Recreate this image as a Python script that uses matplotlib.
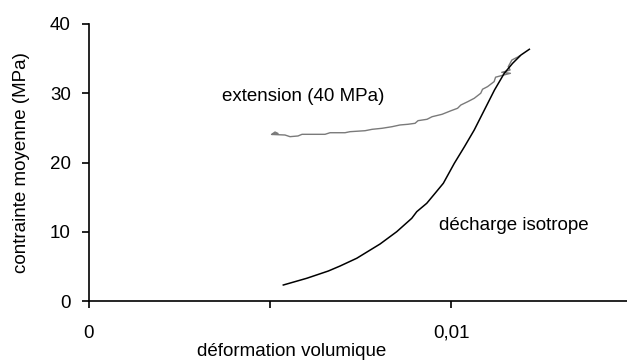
import numpy as np
import matplotlib
matplotlib.use("Agg")
import matplotlib.pyplot as plt
from matplotlib.ticker import FixedLocator, FixedFormatter

plt.rcParams['font.family'] = ['Liberation Sans', 'DejaVu Sans']

# décharge isotrope (black curve)
dech_x = [0.005367, 0.006014, 0.006610, 0.006934, 0.007395, 0.008039, 0.008500,
          0.008914, 0.009053, 0.009329, 0.009558, 0.009787, 0.010090, 0.010370,
          0.010640, 0.010920, 0.011200, 0.011470, 0.011700, 0.011930, 0.012163]
dech_y = [2.31, 3.28, 4.33, 5.05, 6.17, 8.23, 10.01,
          11.94, 12.90, 14.11, 15.55, 17.00, 19.88, 22.28,
          24.69, 27.58, 30.47, 32.88, 34.32, 35.52, 36.35]

# extension (40 MPa) (grey curve)
ext_x = [0.005047, 0.005138, 0.005221, 0.005060, 0.005414, 0.005552, 0.005773,
         0.005884, 0.006519, 0.006657, 0.007072, 0.007210, 0.007624, 0.007818,
         0.008094, 0.008370, 0.008591, 0.008812, 0.009006, 0.009088, 0.009337,
         0.009475, 0.009751, 0.010000, 0.010180, 0.010270, 0.010460, 0.010640,
         0.010820, 0.010870, 0.011010, 0.011190, 0.011230, 0.011460, 0.011640,
         0.011400, 0.011540, 0.011630, 0.011580, 0.011680, 0.011860, 0.011890]
ext_y = [24.07, 24.40, 24.19, 24.05, 23.97, 23.73, 23.83,
         24.07, 24.07, 24.30, 24.30, 24.45, 24.59, 24.79,
         24.94, 25.17, 25.42, 25.52, 25.66, 26.04, 26.24,
         26.61, 26.96, 27.48, 27.83, 28.30, 28.78, 29.27,
         30.00, 30.58, 30.96, 31.68, 32.32, 32.64, 32.88,
         33.02, 33.21, 33.36, 33.84, 34.80, 35.28, 35.40]

xticks = [0, 0.005, 0.01]
xtick_labels = ['0', '', '0,01']
yticks = [0, 10, 20, 30, 40]

fig = plt.figure(figsize=(6.27, 3.60), dpi=100)
ax = fig.add_axes([89/627, 1 - 301/360, 1 - 89/627, (301 - 24)/360])

ax.plot(ext_x, ext_y, color='#7a7a7a', lw=1.0)
ax.plot(dech_x, dech_y, color='black', lw=1.1)

ax.set_xlim(0, 0.01486)
ax.set_ylim(0, 40)

for s in ['top', 'right']:
    ax.spines[s].set_visible(False)
for s in ['left', 'bottom']:
    ax.spines[s].set_linewidth(1.2)

ax.xaxis.set_major_locator(FixedLocator(xticks))
ax.xaxis.set_major_formatter(FixedFormatter(xtick_labels))
ax.set_yticks(yticks)
ax.tick_params(axis='x', direction='out', length=5, width=1.2, pad=12, labelsize=13.5)
ax.tick_params(axis='y', direction='out', length=5, width=1.2, pad=8, labelsize=13.5)

ax.set_ylabel('contrainte moyenne (MPa)', fontsize=13.5, labelpad=14)
ax.set_xlabel('déformation volumique', fontsize=13.5)
ax.xaxis.set_label_coords((292 - 89)/(627 - 89), -0.15)

ax.text(0.00367, 29.6, 'extension (40 MPa)', fontsize=13.5, va='center', ha='left')
ax.text(0.00967, 10.97, 'décharge isotrope', fontsize=13.5, va='center', ha='left')

fig.savefig('out.png', dpi=100)
